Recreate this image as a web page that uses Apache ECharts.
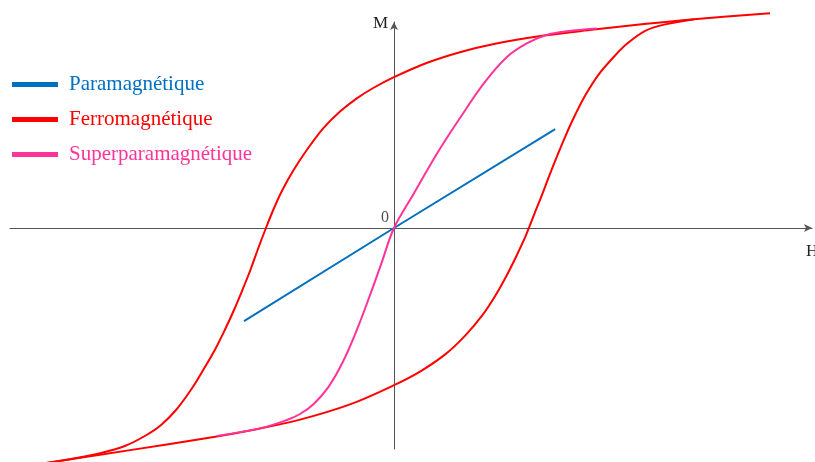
<!DOCTYPE html>
<html>
<head>
<meta charset="utf-8">
<script src="https://cdn.jsdelivr.net/npm/echarts@6/dist/echarts.min.js"></script>
<style>
  html, body { margin: 0; padding: 0; background: #fff; }
  #chart { width: 815px; height: 462px; }
</style>
</head>
<body>
<div id="chart"></div>
<script>
// H and M values (arbitrary units)
const paraH = [-3.75, 0, 4.03]
const paraM = [-2.33, 0, 2.47]

// ferro upper branch, right -> left
const ferroUpH = [9.4, 7.5, 6.25, 5.0, 3.75, 2.5, 1.67, 0.83, 0, -0.52, -0.93, -1.35, -1.77, -2.18, -2.51, -2.79, -3.02,
    -3.22, -3.41, -3.59, -3.79, -4.0, -4.23, -4.48, -4.77, -5.08, -5.45, -5.83, -6.23, -6.73, -7.35, -8.1, -8.73]
const ferroUpM = [5.37, 5.22, 5.1, 4.96, 4.81, 4.6, 4.4, 4.13, 3.77, 3.5, 3.24, 2.91, 2.49, 1.95, 1.45, 0.95, 0.45,
    -0.05, -0.55, -1.05, -1.55, -2.05, -2.55, -3.05, -3.55, -4.05, -4.55, -4.93, -5.2, -5.45, -5.63, -5.78, -5.88]

// ferro lower branch, left -> right
const ferroLowH = [-8.73, -7.35, -5.68, -4.43, -3.6, -2.35, -1.1, 0, 0.65, 1.28, 1.78, 2.21, 2.54, 2.82, 3.07, 3.3,
    3.5, 3.7, 3.89, 4.09, 4.3, 4.53, 4.79, 5.11, 5.47, 5.83, 6.28, 6.78, 7.5]
const ferroLowM = [-5.88, -5.67, -5.41, -5.21, -5.06, -4.79, -4.41, -3.93, -3.59, -3.16, -2.69, -2.18, -1.68, -1.18, -0.68, -0.18,
    0.33, 0.83, 1.33, 1.83, 2.33, 2.83, 3.33, 3.83, 4.25, 4.61, 4.93, 5.09, 5.22]

const superH = [-4.43, -3.35, -2.68, -2.35, -2.02, -1.65, -1.28, -0.93, -0.6, -0.33, 0, 0.5, 1.08, 1.67, 2.25, 2.83, 3.33, 3.83, 4.42, 5.08]
const superM = [-5.2, -5.01, -4.8, -4.65, -4.41, -3.99, -3.35, -2.55, -1.68, -0.93, 0, 0.87, 1.87, 2.78, 3.62, 4.28, 4.62, 4.83, 4.93, 4.99]

const names = ['Paramagnétique', 'Ferromagnétique', 'Superparamagnétique']
const colors = ['#0070C0', '#FF0000', '#FF3399']

const zip = (xs, ys) => xs.map((x, i) => [x, ys[i]])
const font = '"Liberation Serif", "DejaVu Serif", serif'

let myChart = echarts.init(document.getElementById('chart'))

// one smooth path through all points of a curve, placed with the axes' scales
const curve = (name, color, hs, ms, z) => ({
    name: name,
    type: 'custom',
    data: zip(hs, ms),
    encode: { x: 0, y: 1 },
    clip: false,
    silent: true,
    itemStyle: { color: color },
    z: z,
    renderItem: (params, api) => {
        if (params.dataIndex !== 0) return null
        const pts = hs.map((h, i) => api.coord([h, ms[i]]))
        return {
            type: 'polyline',
            shape: { points: pts, smooth: 0.35 },
            style: { stroke: color, lineWidth: 2, fill: null }
        }
    }
})

myChart.setOption({
    animation: false,
    grid: { left: 10, right: 3, top: 22, bottom: 13, outerBoundsMode: 'none', containLabel: false },
    legend: {
        orient: 'vertical',
        left: 7,
        top: 69,
        icon: 'rect',
        itemWidth: 46,
        itemHeight: 5,
        itemGap: 14,
        textStyle: { fontFamily: font, fontSize: 21, padding: [0, 0, 0, 6] },
        data: names.map((n, i) => ({ name: n, itemStyle: { color: colors[i] }, textStyle: { color: colors[i] } }))
    },
    xAxis: {
        type: 'value',
        min: -9.6,
        max: 10.45,
        name: 'H',
        nameLocation: 'end',
        nameGap: -6,
        nameTextStyle: { fontFamily: font, fontSize: 17, color: '#222', verticalAlign: 'top', padding: [15, 0, 0, 0] },
        axisLine: { onZero: true, symbol: ['none', 'arrow'], symbolSize: [6, 8], lineStyle: { color: '#555', width: 1 } },
        axisTick: { show: false },
        axisLabel: { show: false },
        splitLine: { show: false }
    },
    yAxis: {
        type: 'value',
        min: -5.525,
        max: 5.15,
        name: 'M',
        nameLocation: 'end',
        nameGap: -2,
        nameTextStyle: { fontFamily: font, fontSize: 17, color: '#222', align: 'right', verticalAlign: 'middle', padding: [0, 6, 0, 0] },
        axisLine: { onZero: true, symbol: ['none', 'arrow'], symbolSize: [6, 8], lineStyle: { color: '#555', width: 1 } },
        axisTick: { show: false },
        axisLabel: { show: false },
        splitLine: { show: false }
    },
    series: [
        {
            name: names[0],
            type: 'line',
            data: zip(paraH, paraM),
            showSymbol: false,
            clip: false,
            lineStyle: { color: colors[0], width: 2 },
            itemStyle: { color: colors[0] },
            z: 3
        },
        curve(names[1], colors[1], ferroUpH, ferroUpM, 2),
        curve(names[1], colors[1], ferroLowH, ferroLowM, 2),
        curve(names[2], colors[2], superH, superM, 4),
        {
            // origin label
            name: 'origin',
            type: 'scatter',
            data: [[0, 0]],
            symbolSize: 0,
            silent: true,
            label: {
                show: true,
                formatter: '0',
                position: 'left',
                distance: 5,
                offset: [0, -10],
                fontFamily: font,
                fontSize: 16,
                color: '#222'
            },
            z: 1
        }
    ]
})
</script>
</body>
</html>
